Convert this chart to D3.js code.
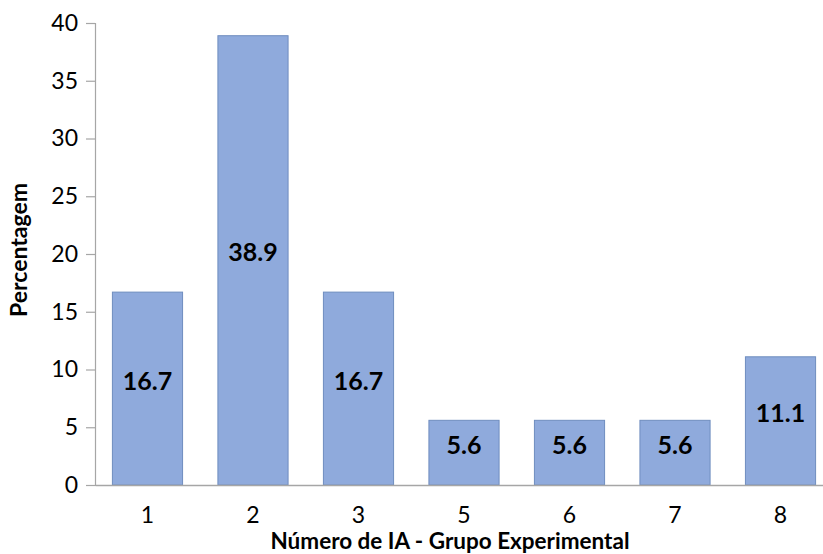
<!DOCTYPE html>
<html>
<head>
<meta charset="utf-8">
<script src="https://cdn.jsdelivr.net/npm/d3@7"></script>
<style>
  html, body { margin: 0; padding: 0; background: #fff; }
  svg { display: block; }
</style>
</head>
<body>
<svg id="chart" width="823" height="554"></svg>
<script>
// Percentage of cases by number of IA — experimental group
const categories = ["1", "2", "3", "5", "6", "7", "8"];
const values = [16.7, 38.9, 16.7, 5.6, 5.6, 5.6, 11.1];
const yTicks = [0, 5, 10, 15, 20, 25, 30, 35, 40];
const xTitle = "Número de IA - Grupo Experimental";
const yTitle = "Percentagem";

const W = 823, H = 554;
const plotLeft = 95, plotRight = 833, plotTop = 23, plotBottom = 485;

const svg = d3.select("#chart");
const font = "Lato, 'Open Sans', sans-serif";

const x = d3.scaleBand().domain(categories).range([plotLeft, plotRight]).paddingInner(0.335).paddingOuter(0.165);
const y = d3.scaleLinear().domain([0, 40]).range([plotBottom, plotTop]);

// y axis
const yAxis = svg.append("g")
  .attr("transform", `translate(${plotLeft},0)`)
  .call(d3.axisLeft(y).tickValues(yTicks).tickSize(9).tickPadding(8));
yAxis.select(".domain").attr("stroke", "#a6a6a6").attr("stroke-width", 1.2);
yAxis.selectAll(".tick line").attr("stroke", "#a6a6a6").attr("stroke-width", 1.2);
yAxis.selectAll(".tick text")
  .attr("font-family", font).attr("font-size", 23).attr("fill", "#000");

// bars
svg.append("g").selectAll("rect")
  .data(values)
  .join("rect")
  .attr("x", (d, i) => x(categories[i]))
  .attr("y", d => y(d))
  .attr("width", x.bandwidth())
  .attr("height", d => y(0) - y(d))
  .attr("fill", "#8faadc")
  .attr("stroke", "#6f8dbf")
  .attr("stroke-width", 1);

// x axis
const xAxis = svg.append("g")
  .attr("transform", `translate(0,${plotBottom})`)
  .call(d3.axisBottom(x).tickSize(0).tickPadding(22));
xAxis.select(".domain").attr("stroke", "#a6a6a6").attr("stroke-width", 1.5);
xAxis.selectAll(".tick text")
  .attr("font-family", font).attr("font-size", 23).attr("fill", "#000");

// value labels
svg.append("g").selectAll("text")
  .data(values)
  .join("text")
  .attr("x", (d, i) => x(categories[i]) + x.bandwidth() / 2)
  .attr("y", d => (y(d) + y(0)) / 2 - 9)
  .attr("text-anchor", "middle")
  .attr("dominant-baseline", "central")
  .attr("font-family", font).attr("font-weight", "bold").attr("font-size", 25)
  .attr("fill", "#000")
  .text(d => d.toFixed(1));

// axis titles
svg.append("text")
  .attr("x", 450).attr("y", 549)
  .attr("text-anchor", "middle")
  .attr("font-family", font).attr("font-weight", "bold").attr("font-size", 22.5)
  .text(xTitle);

svg.append("text")
  .attr("transform", `translate(26.5,${(plotTop + plotBottom) / 2 - 4}) rotate(-90)`)
  .attr("text-anchor", "middle")
  .attr("font-family", font).attr("font-weight", "bold").attr("font-size", 23)
  .text(yTitle);
</script>
</body>
</html>
